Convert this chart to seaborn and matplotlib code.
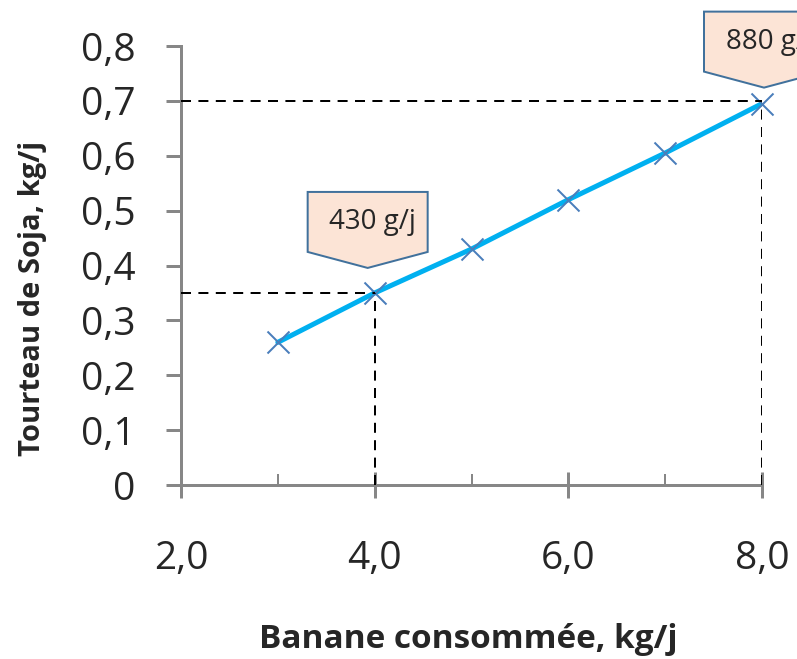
import numpy as np
import matplotlib
matplotlib.use("Agg")
import matplotlib.pyplot as plt
from matplotlib.patches import Polygon
from matplotlib.ticker import FixedLocator
import seaborn as sns

# data
banane = [3, 4, 5, 6, 7, 8]
tourteau = [0.26, 0.35, 0.43, 0.52, 0.605, 0.695]
guide_x = [4, 8]
guide_y = [0.35, 0.70]
callout_text = ["430 g/j", "880 g/j"]
callout_tip_px = [(-7, 25), (2, 16)]  # tip offset from the point, pixels
x_ticks = [2, 4, 6, 8]
x_tick_labels = ["2,0", "4,0", "6,0", "8,0"]
x_minor = [3, 5, 7]
y_ticks = [0, 0.1, 0.2, 0.3, 0.4, 0.5, 0.6, 0.7, 0.8]
y_tick_labels = ["0", "0,1", "0,2", "0,3", "0,4", "0,5", "0,6", "0,7", "0,8"]

W, H, DPI = 797, 659, 100
PT = 72 / DPI  # points per pixel
GREY = "#878787"

sns.set_style("white")
plt.rcParams["font.family"] = ["Open Sans", "DejaVu Sans"]

fig = plt.figure(figsize=(W / DPI, H / DPI), dpi=DPI)
ax = fig.add_axes([181 / W, 174 / H, 581 / W, 439 / H])

sns.lineplot(x=banane, y=tourteau, color="#00B0F0", linewidth=5 * PT, ax=ax, zorder=2)
sns.scatterplot(x=banane, y=tourteau, marker="x", s=(22 * PT) ** 2, color="#4A7EBB",
                linewidth=2 * PT, ax=ax, zorder=3, clip_on=False)

ax.set_xlim(2, 8)
ax.set_ylim(0, 0.8)

# dashed guides
for gx, gy in zip(guide_x, guide_y):
    ax.plot([2, gx], [gy, gy], color="black", lw=2 * PT, dashes=(5.0, 3.7), zorder=4)
    ax.plot([gx, gx], [0, gy], color="black", lw=2 * PT, dashes=(5.0, 3.7), zorder=4)

for s in ["top", "right"]:
    ax.spines[s].set_visible(False)
for s in ["left", "bottom"]:
    ax.spines[s].set_color(GREY)
    ax.spines[s].set_linewidth(3 * PT)

ax.set_xticks(x_ticks)
ax.set_xticklabels(x_tick_labels)
ax.xaxis.set_minor_locator(FixedLocator(x_minor))
ax.set_yticks(y_ticks)
ax.set_yticklabels(y_tick_labels)
ax.tick_params(axis="x", which="major", direction="inout", length=27 * PT, width=3 * PT,
               color=GREY, labelsize=28, pad=30, bottom=True)
ax.tick_params(axis="x", which="minor", direction="in", length=11 * PT, width=2 * PT,
               color=GREY, bottom=True)
ax.tick_params(axis="y", which="major", direction="out", length=15 * PT, width=3 * PT,
               color=GREY, labelsize=28, pad=22, left=True)

ax.set_xlabel("Banane consommée, kg/j", fontsize=24, fontweight="bold")
ax.xaxis.set_label_coords(0.494, -0.352)
ax.xaxis.label.set_va("center")
ax.set_ylabel("Tourteau de Soja, kg/j", fontsize=21, fontweight="bold")
ax.yaxis.set_label_coords(-0.255, 0.425)
ax.yaxis.label.set_va("center")

# callouts (pixel geometry from the reference)
fig.canvas.draw()
for px, py, txt, (dx, dy) in zip(guide_x, guide_y, callout_text, callout_tip_px):
    tx, ty = ax.transData.transform((px, tourteau[banane.index(px)]))
    tx, ty = tx + dx, ty + dy
    verts = [(tx, ty), (tx - 60, ty + 16), (tx - 60, ty + 76), (tx + 60, ty + 76), (tx + 60, ty + 16)]
    poly = Polygon(verts, closed=True, transform=None, facecolor="#FCE4D6",
                   edgecolor="#41719C", linewidth=2 * PT, zorder=5)
    fig.patches.append(poly)
    fig.text((tx + 5) / W, (ty + 46) / H, txt, ha="center", va="center", fontsize=20, zorder=6)

fig.savefig("out.png", dpi=DPI)
